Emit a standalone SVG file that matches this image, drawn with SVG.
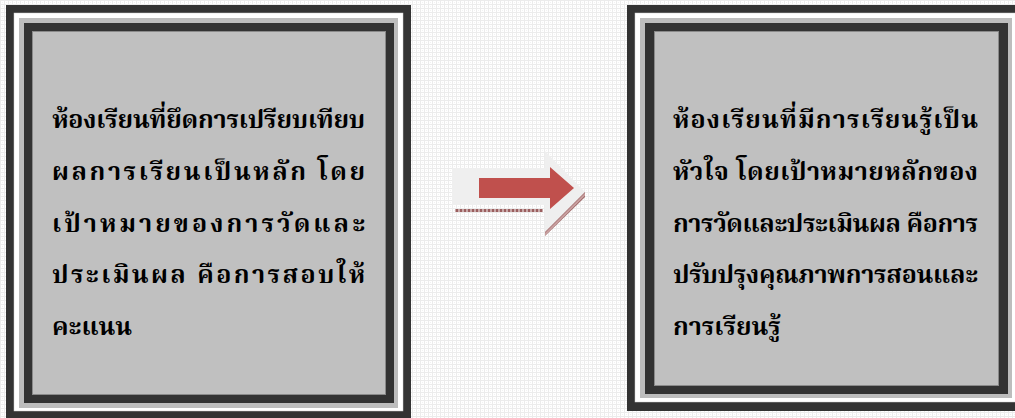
<svg xmlns="http://www.w3.org/2000/svg" width="1015" height="418" viewBox="0 0 1015 418">
<defs>
<pattern id="bg" width="4" height="4" patternUnits="userSpaceOnUse">
<rect width="4" height="4" fill="#ffffff"/>
<rect x="0" y="0" width="1" height="4" fill="#ececec"/>
<rect x="0" y="0" width="4" height="1" fill="#ececec"/>
<rect x="2" y="2" width="1" height="1" fill="#f2f2f2"/>
</pattern>
<pattern id="dots" width="4" height="3" patternUnits="userSpaceOnUse">
<rect width="4" height="3" fill="#c9a9a9"/>
<rect x="0" y="0" width="2" height="3" fill="#9a5f5f"/>
</pattern>
<pattern id="hatch" width="4" height="4" patternUnits="userSpaceOnUse" patternTransform="rotate(45)">
<rect width="4" height="4" fill="#c8a0a0"/>
<rect width="2" height="4" fill="#9a6060"/>
</pattern>
</defs>
<style>
.outer{fill:#333333}
.gap{fill:#ffffff;stroke:#d0d0d0;stroke-width:0.5}
.lg{fill:#bdbdbd}
.inner{fill:#333333}
.fill{fill:#c0c0c0;stroke:#8a8a8a;stroke-width:1}
.t{font-family:"Noto Serif Thai","Noto Sans Thai","Liberation Serif",serif;font-weight:bold;font-size:25px;fill:#000000}
</style>
<rect width="1015" height="418" fill="url(#bg)"/>
<g id="node-left">
<rect class="outer" x="6" y="5" width="405" height="415"/>
<rect class="gap" x="14" y="13" width="389" height="398"/>
<rect class="lg" x="19" y="18" width="379" height="390"/>
<rect class="inner" x="24" y="23" width="370" height="380"/>
<rect class="fill" x="32.5" y="31.5" width="353" height="363"/>
<text class="t" x="52" y="128" textLength="313" lengthAdjust="spacing">ห้องเรียนที่ยึดการเปรียบเทียบ</text>
<text class="t" x="52" y="180" textLength="313" lengthAdjust="spacing">ผลการเรียนเป็นหลัก โดย</text>
<text class="t" x="52" y="232" textLength="313" lengthAdjust="spacing">เป้าหมายของการวัดและ</text>
<text class="t" x="52" y="283" textLength="313" lengthAdjust="spacing">ประเมินผล คือการสอบให้</text>
<text class="t" x="52" y="335">คะแนน</text>
</g>
<g id="node-right">
<rect class="outer" x="627" y="5" width="400" height="406"/>
<rect class="gap" x="635" y="13" width="384" height="389"/>
<rect class="lg" x="640" y="18" width="372" height="380"/>
<rect class="inner" x="645" y="23" width="363" height="371"/>
<rect class="fill" x="654.5" y="31.5" width="344" height="354"/>
<text class="t" x="673" y="128" textLength="305" lengthAdjust="spacing">ห้องเรียนที่มีการเรียนรู้เป็น</text>
<text class="t" x="673" y="180" textLength="305" lengthAdjust="spacing">หัวใจ โดยเป้าหมายหลักของ</text>
<text class="t" x="673" y="232" textLength="305" lengthAdjust="spacing">การวัดและประเมินผล คือการ</text>
<text class="t" x="673" y="283" textLength="305" lengthAdjust="spacing">ปรับปรุงคุณภาพการสอนและ</text>
<text class="t" x="673" y="335">การเรียนรู้</text>
</g>
<g id="connectors">
<polygon points="452,168 545,168 545,151 585,192 545,232 545,205 452,205" fill="#efefef"/>
<rect x="455" y="209" width="88" height="3" fill="url(#dots)"/>
<polygon points="545,232 585,192 585,197 545,236" fill="url(#hatch)"/>
<polygon points="479,178 550,178 550,167 574,188 550,209 550,198 479,198" fill="#c0504d"/>
</g>
</svg>
